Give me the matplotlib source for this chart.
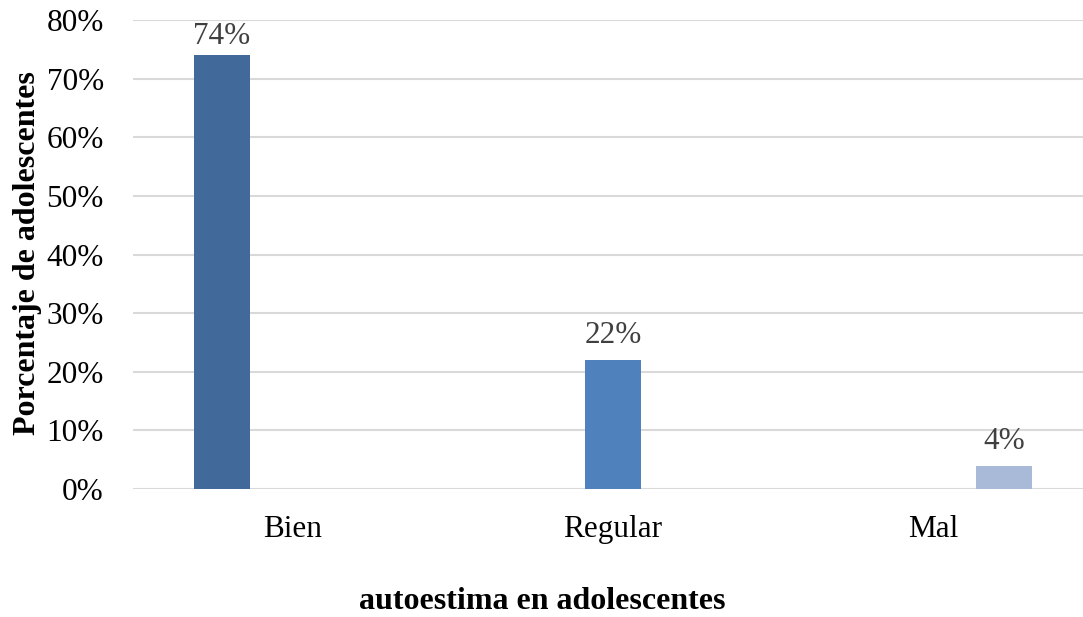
import matplotlib
matplotlib.use("Agg")
import matplotlib.pyplot as plt
import numpy as np
from matplotlib.ticker import PercentFormatter

categories = ["Bien", "Regular", "Mal"]
series_names = ["Bien", "Regular", "Mal"]
series_values = [
    [0.74, 0.0, 0.0],
    [0.0, 0.22, 0.0],
    [0.0, 0.0, 0.04],
]
colors = ["#41699A", "#4F81BD", "#A9BAD8"]
yticks = [0, 0.1, 0.2, 0.3, 0.4, 0.5, 0.6, 0.7, 0.8]

plt.rcParams['font.family'] = ['Liberation Serif', 'DejaVu Serif']

fig = plt.figure(figsize=(10.83, 6.17), dpi=100)
W, H = 1083, 617
ax = fig.add_axes([133 / W, 1 - 489 / H, (W - 133) / W, (489 - 20) / H])

x = np.arange(len(categories))
offsets = [-71 / 320, 0, 71 / 320]
bw = 56 / 320
for vals, off, c in zip(series_values, offsets, colors):
    bars = ax.bar(x + off, vals, width=bw, color=c, zorder=3)
    for b, v in zip(bars, vals):
        if v > 0:
            ax.text(b.get_x() + b.get_width() / 2, min(v + 0.029, 0.759),
                    f"{round(v*100)}%", ha='center', va='baseline',
                    fontsize=22.5, color='#404040')

ax.set_xlim(-0.5, 2 + (W - 933) / 320)
ax.set_ylim(0, 0.8)
ax.set_yticks(yticks)
ax.yaxis.set_major_formatter(PercentFormatter(1.0, decimals=0))
ax.grid(axis='y', color='#D9D9D9', linewidth=1.5, zorder=0)
for s in ax.spines.values():
    s.set_visible(False)
ax.tick_params(axis='both', length=0, labelsize=22.5, colors='black')
ax.tick_params(axis='y', pad=21)
ax.tick_params(axis='x', pad=18.5)
ax.set_xticks(x)
ax.set_xticklabels(categories)

fig.text(28 / W, 1 - 253 / H, "Porcentaje de adolescentes", rotation=90,
         ha='center', va='center', fontsize=23, fontweight='bold')
fig.text(542 / W, 1 - 609 / H, "autoestima en adolescentes",
         ha='center', va='baseline', fontsize=23, fontweight='bold')

fig.savefig("out.png", dpi=100)
